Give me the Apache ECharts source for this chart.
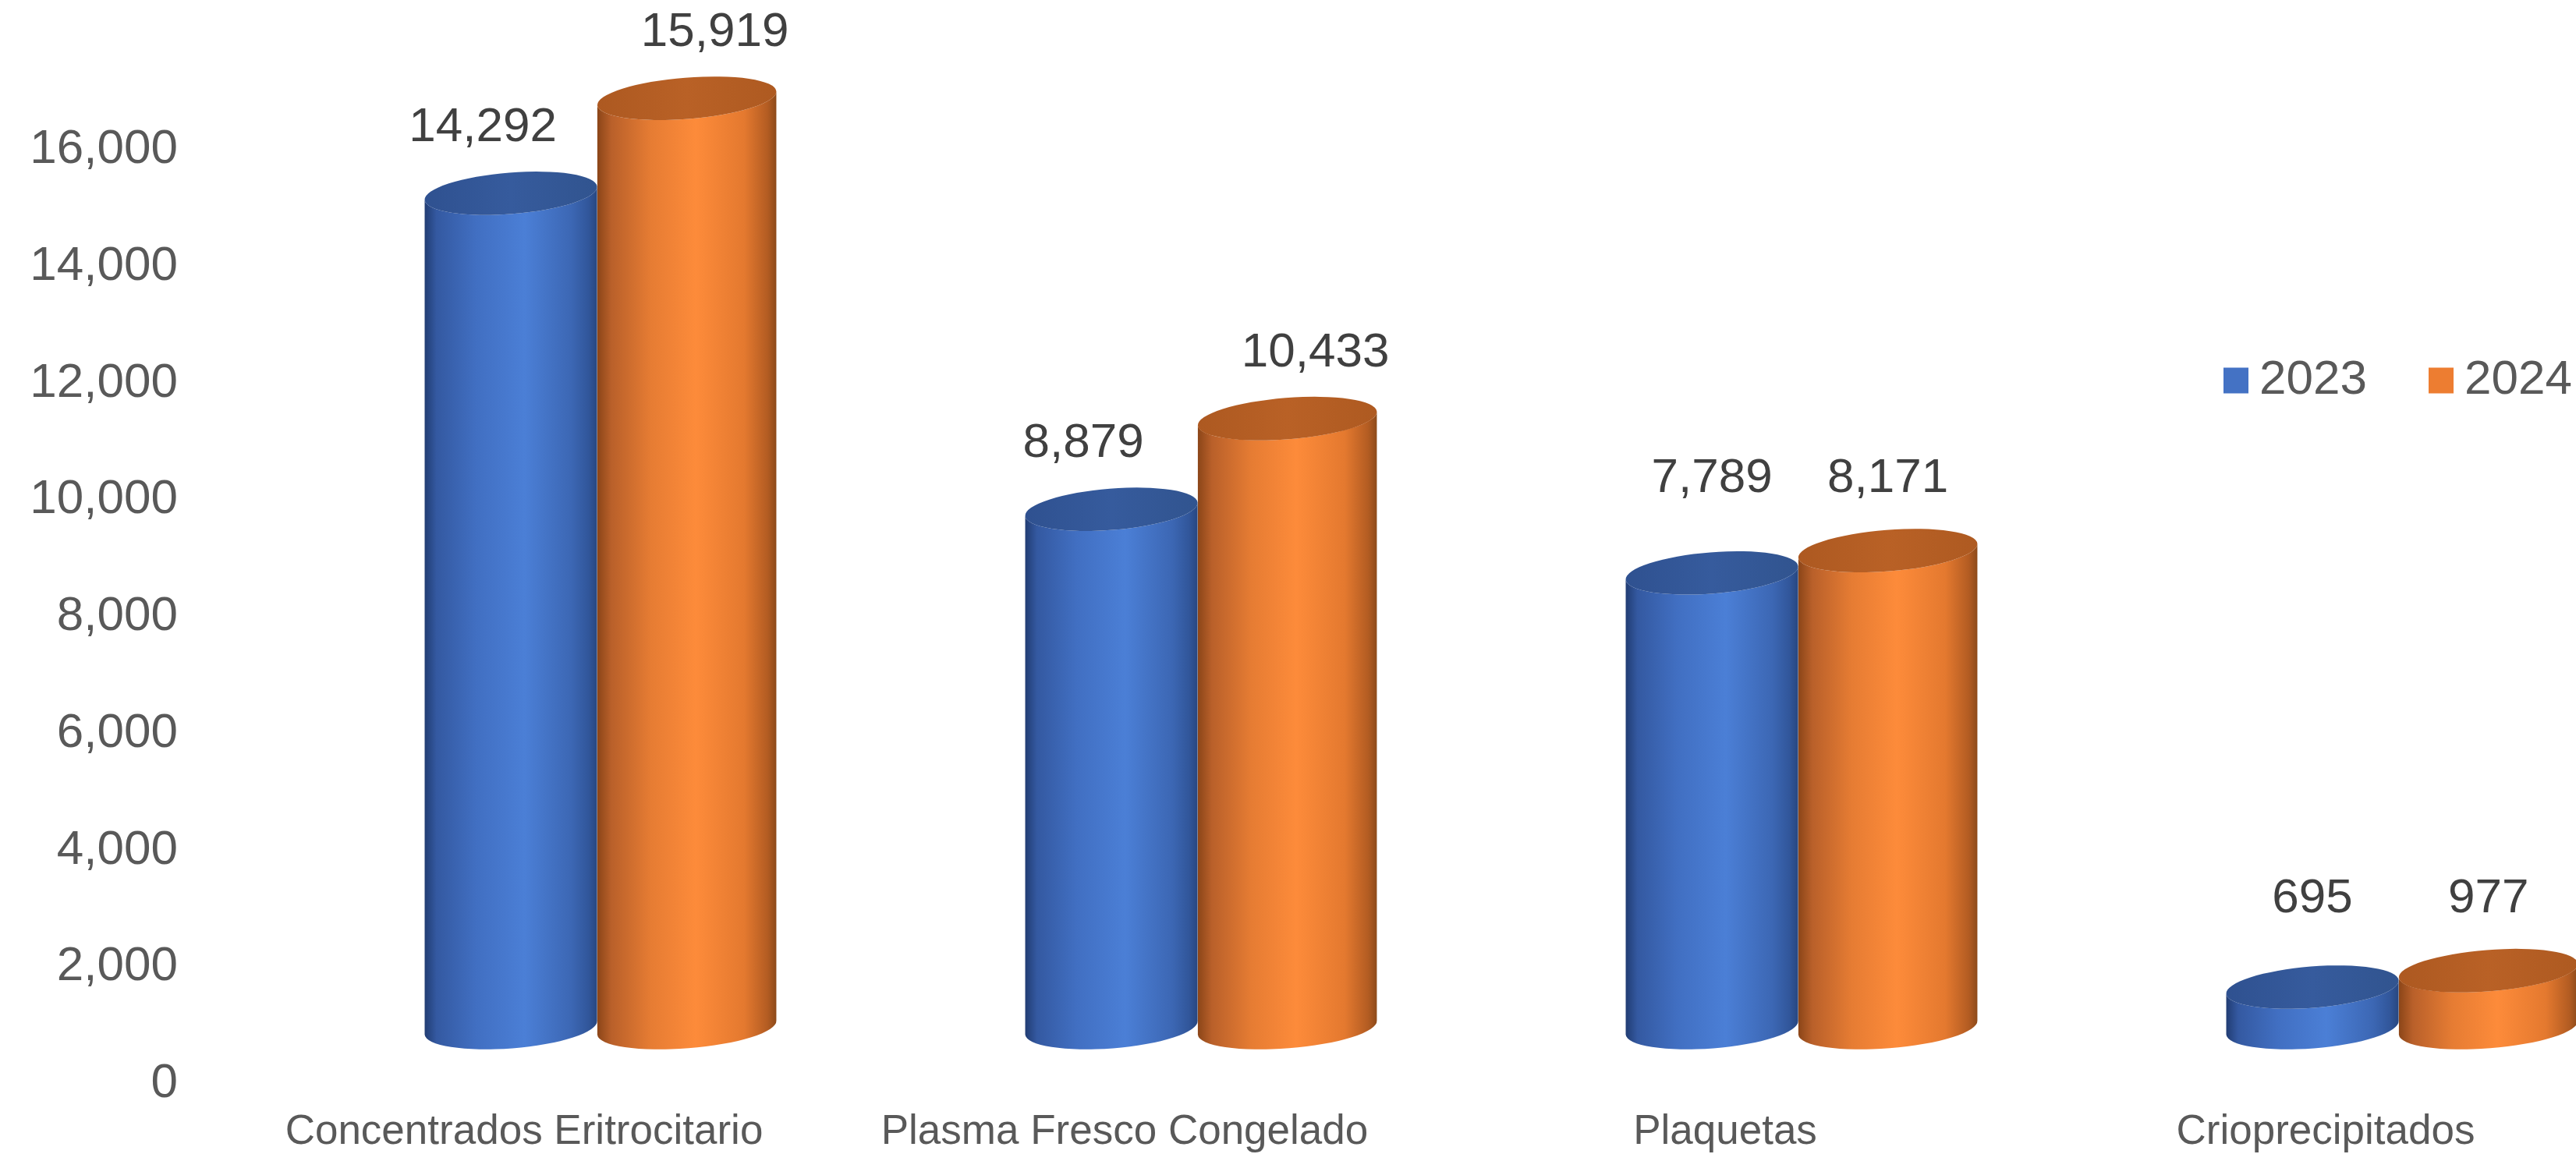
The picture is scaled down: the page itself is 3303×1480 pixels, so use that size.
<!DOCTYPE html>
<html>
<head>
<meta charset="utf-8">
<script src="https://cdn.jsdelivr.net/npm/echarts@6/dist/echarts.min.js"></script>
<style>
html,body{margin:0;padding:0;background:#fff;}
#chart{width:3303px;height:1480px;}
</style>
</head>
<body>
<div id="chart"></div>
<script>
const categories = ['Concentrados Eritrocitario', 'Plasma Fresco Congelado', 'Plaquetas', 'Crioprecipitados'];
const seriesNames = ['2023', '2024'];
const values2023 = [14292, 8879, 7789, 695];
const values2024 = [15919, 10433, 8171, 977];
const yTicks = [0, 2000, 4000, 6000, 8000, 10000, 12000, 14000, 16000];

const FONT = '"Liberation Sans", Arial, sans-serif';
const legendColors = ['#4472C4', '#ED7D31'];
const bodyStops = [
  [
    {offset: 0, color: '#213c72'},
    {offset: 0.07, color: '#3459a1'},
    {offset: 0.3, color: '#416fc2'},
    {offset: 0.58, color: '#4b7fd6'},
    {offset: 0.85, color: '#3c67b4'},
    {offset: 0.95, color: '#31569a'},
    {offset: 1, color: '#27467f'}
  ],
  [
    {offset: 0, color: '#8a4518'},
    {offset: 0.08, color: '#b9602a'},
    {offset: 0.3, color: '#e67c33'},
    {offset: 0.55, color: '#fd8b3a'},
    {offset: 0.82, color: '#e4792f'},
    {offset: 0.95, color: '#b35c22'},
    {offset: 1, color: '#8c4a1a'}
  ]
];
const topStops = [
  [
    {offset: 0, color: '#2f5190'},
    {offset: 0.5, color: '#365b9d'},
    {offset: 1, color: '#31548f'}
  ],
  [
    {offset: 0, color: '#ad5921'},
    {offset: 0.5, color: '#b96126'},
    {offset: 1, color: '#ae5a21'}
  ]
];
// geometry of the 3D cylinders (fractions of the category band)
const OFFSET_X = [-0.022, 0.271];
const WIDTH_F = [0.288, 0.299];
const DEPTH_Y = -72;
const RY = 26.5;
const TILT = 4.5; // degrees
const allValues = [values2023, values2024];

function fmt(v) { return v.toLocaleString('en-US'); }

function makeRender(sIdx) {
  return function (params, api) {
    const i = api.value(0);
    const v = api.value(1);
    const band = api.size([1, 0])[0];
    const base = api.coord([i, 0]);
    const topP = api.coord([i, v]);
    const cx = base[0] + band * OFFSET_X[sIdx];
    const rx = band * WIDTH_F[sIdx] / 2;
    const yb = base[1] + DEPTH_Y;
    const yt = topP[1] + DEPTH_Y;
    const th = TILT * Math.PI / 180;
    const ex = rx * Math.cos(th), ey = rx * Math.sin(th);
    const TL = [cx - ex, yt + ey], TR = [cx + ex, yt - ey];
    const BL = [cx - ex, yb + ey], BR = [cx + ex, yb - ey];
    const rot = -TILT;
    const p = (pt) => pt[0].toFixed(2) + ' ' + pt[1].toFixed(2);
    const body = 'M ' + p(TL) + ' L ' + p(BL) +
      ' A ' + rx + ' ' + RY + ' ' + rot + ' 0 0 ' + p(BR) +
      ' L ' + p(TR) +
      ' A ' + rx + ' ' + RY + ' ' + rot + ' 0 1 ' + p(TL) + ' Z';
    const top = 'M ' + p(TL) +
      ' A ' + rx + ' ' + RY + ' ' + rot + ' 1 1 ' + p(TR) +
      ' A ' + rx + ' ' + RY + ' ' + rot + ' 1 1 ' + p(TL) + ' Z';

    // label placement: pair labels line up when the tops are close,
    // otherwise each sits above its own top, nudged outward.
    const other = allValues[1 - sIdx][i];
    const ytOther = api.coord([i, other])[1] + DEPTH_Y;
    let lx = cx, ly;
    if (Math.abs(yt - ytOther) < 60) {
      ly = Math.min(yt, ytOther) - 92;
    } else {
      ly = yt - 84;
      lx = cx + (sIdx === 0 ? -36 : 36);
    }
    return {
      type: 'group',
      children: [
        {
          type: 'path',
          shape: {pathData: body},
          style: {
            fill: new echarts.graphic.LinearGradient(0, 0, 1, 0, bodyStops[sIdx]),
            stroke: null
          }
        },
        {
          type: 'path',
          shape: {pathData: top},
          style: {
            fill: new echarts.graphic.LinearGradient(0, 0, 1, 0, topStops[sIdx]),
            stroke: null
          }
        },
        {
          type: 'text',
          style: {
            text: fmt(v),
            x: lx,
            y: ly,
            fill: '#404040',
            fontSize: 62,
            fontFamily: FONT,
            align: 'center',
            verticalAlign: 'middle'
          }
        }
      ]
    };
  };
}

const legendLefts = [2851, 3114];
const chart = echarts.init(document.getElementById('chart'), null, {renderer: 'canvas'});
chart.setOption({
  backgroundColor: '#ffffff',
  animation: false,
  textStyle: {fontFamily: FONT},
  grid: {left: 287, top: 192, width: 3080, height: 1198, containLabel: false, outerBoundsMode: 'none'},
  legend: seriesNames.map((name, k) => ({
    data: [name],
    left: legendLefts[k],
    top: 457,
    padding: 0,
    orient: 'horizontal',
    icon: 'rect',
    itemWidth: 32,
    itemHeight: 33,
    textStyle: {fontSize: 62, color: '#595959', fontFamily: FONT, padding: [0, 0, 0, 9]}
  })),
  xAxis: {
    type: 'category',
    data: categories,
    axisLine: {show: false},
    axisTick: {show: false},
    splitLine: {show: false},
    axisLabel: {fontSize: 53, color: '#595959', fontFamily: FONT, margin: 36, interval: 0}
  },
  yAxis: {
    type: 'value',
    min: yTicks[0],
    max: yTicks[yTicks.length - 1],
    interval: yTicks[1] - yTicks[0],
    axisLine: {show: false},
    axisTick: {show: false},
    splitLine: {show: false},
    axisLabel: {
      fontSize: 62, color: '#595959', fontFamily: FONT, margin: 59,
      formatter: (v) => fmt(v)
    }
  },
  series: seriesNames.map((name, sIdx) => ({
    name: name,
    type: 'custom',
    renderItem: makeRender(sIdx),
    itemStyle: {color: legendColors[sIdx]},
    encode: {x: 0, y: 1},
    clip: false,
    z: 2 + sIdx,
    data: allValues[sIdx].map((v, i) => [i, v])
  }))
});
</script>
</body>
</html>
